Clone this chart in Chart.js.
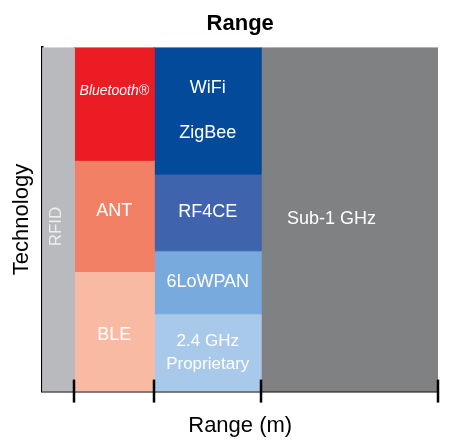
<!DOCTYPE html>
<html>
<head>
<meta charset="utf-8">
<script src="https://cdn.jsdelivr.net/npm/chart.js@4/dist/chart.umd.min.js"></script>
<style>
  body { margin: 0; background: #fff; }
</style>
</head>
<body>
<canvas id="grafico" width="456" height="446"></canvas>
<script>
// range axis edges (relative units)
const rangeEdges = [0, 32, 112, 219, 396];

// one entry per technology block
const techNames = ['RFID', 'Bluetooth®', 'ANT', 'BLE', 'WiFi|ZigBee', 'RF4CE', '6LoWPAN', '2.4 GHz|Proprietary', 'Sub-1 GHz'];
const techColumn = [0, 1, 1, 1, 2, 2, 2, 2, 3];
const techLow = [0, 67.2, 34.9, 0, 63.2, 40.9, 22.6, 0, 0];
const techHigh = [100, 100, 67.2, 34.9, 100, 63.2, 40.9, 22.6, 100];

const techColors = ['#b9babd', '#ec1c24', '#f28064', '#f9baa3', '#034a9b', '#3f64ad', '#79aadd', '#a9c9eb', '#808183'];

function bloco(i) {
  const x0 = rangeEdges[techColumn[i]];
  const x1 = rangeEdges[techColumn[i] + 1];
  return [
    {x: x0, y: techLow[i]},
    {x: x1, y: techLow[i]},
    {x: x1, y: techHigh[i]},
    {x: x0, y: techHigh[i]},
    {x: x0, y: techLow[i]}
  ];
}

const datasets = techNames.map((nome, i) => ({
  label: nome,
  data: bloco(i),
  showLine: true,
  fill: 'shape',
  backgroundColor: techColors[i],
  borderColor: techColors[i],
  borderWidth: 1,
  pointRadius: 0,
  tension: 0
}));

// texto dentro de cada bloco
const rotulos = {
  id: 'rotulos',
  afterDatasetsDraw(chart) {
    const {ctx, scales: {x, y}} = chart;
    ctx.save();
    ctx.textAlign = 'center';
    ctx.textBaseline = 'middle';
    techNames.forEach((nome, i) => {
      const x0 = x.getPixelForValue(rangeEdges[techColumn[i]]);
      const x1 = x.getPixelForValue(rangeEdges[techColumn[i] + 1]);
      const y0 = y.getPixelForValue(techLow[i]);
      const y1 = y.getPixelForValue(techHigh[i]);
      const cx = (x0 + x1) / 2;
      const cy = (y0 + y1) / 2;
      const linhas = nome.split('|');
      ctx.fillStyle = '#ffffff';
      if (nome === 'RFID') {
        ctx.font = '17px "Liberation Sans", Arial, sans-serif';
        ctx.fillStyle = '#eeeeef';
        ctx.translate(cx - 2, cy + 7);
        ctx.rotate(-Math.PI / 2);
        ctx.fillText(nome, 0, 0);
        ctx.setTransform(1, 0, 0, 1, 0, 0);
        return;
      }
      if (nome.startsWith('Bluetooth')) {
        ctx.font = 'italic 14px "Liberation Sans", Arial, sans-serif';
        ctx.fillText(nome, cx, cy - 13);
        return;
      }
      const tam = linhas.length > 1 && (y0 - y1) < 100 ? 17 : 18;
      ctx.font = tam + 'px "Liberation Sans", Arial, sans-serif';
      const gap = linhas.length > 1 ? ((y0 - y1) > 100 ? 45 : 23) : 0;
      let ajuste = 0;
      if (nome === 'ANT') ajuste = -5;
      if (nome === 'BLE') ajuste = 3;
      linhas.forEach((l, k) => {
        const dy = (k - (linhas.length - 1) / 2) * gap;
        const dx = nome === 'Sub-1 GHz' ? -18 : 0;
        ctx.fillText(l, cx + dx, cy + dy + ajuste);
      });
    });
    ctx.restore();

    // marcas do eixo x
    ctx.save();
    ctx.strokeStyle = '#000';
    ctx.lineWidth = 2.5;
    rangeEdges.slice(1).forEach(v => {
      const px = Math.round(x.getPixelForValue(v));
      ctx.beginPath();
      ctx.moveTo(px, chart.chartArea.bottom - 12);
      ctx.lineTo(px, chart.chartArea.bottom + 11);
      ctx.stroke();
    });
    ctx.restore();
  }
};

const ctx = document.getElementById('grafico').getContext('2d');
const chart = new Chart(ctx, {
  type: 'scatter',
  data: { datasets: datasets },
  options: {
    responsive: false,
    animation: false,
    layout: { padding: { top: 0, right: 18, bottom: 0, left: 0 } },
    plugins: {
      legend: { display: false },
      tooltip: { enabled: false },
      title: {
        display: true,
        fullSize: false,
        text: 'Range',
        color: '#000',
        font: { family: '"Liberation Sans", Arial, sans-serif', size: 22, weight: 'bold' },
        padding: { top: 11, bottom: 10 }
      }
    },
    scales: {
      x: {
        type: 'linear',
        min: rangeEdges[0],
        max: rangeEdges[rangeEdges.length - 1],
        z: 1,
        afterBuildTicks: s => { s.ticks = rangeEdges.map(v => ({value: v})); },
        ticks: { display: false },
        grid: { display: false, drawTicks: false },
        border: { display: true, color: '#000', width: 2.5 },
        title: {
          display: true,
          text: 'Range (m)',
          color: '#000',
          font: { family: '"Liberation Sans", Arial, sans-serif', size: 22 },
          padding: { top: 21, bottom: 7 }
        }
      },
      y: {
        type: 'linear',
        min: 0,
        max: 100,
        z: 1,
        ticks: { display: false },
        grid: { display: false, drawTicks: false },
        border: { display: true, color: '#000', width: 2.5 },
        title: {
          display: true,
          text: 'Technology',
          color: '#000',
          font: { family: '"Liberation Sans", Arial, sans-serif', size: 22 },
          padding: { top: 9, bottom: 7 }
        }
      }
    }
  },
  plugins: [rotulos]
});
</script>
</body>
</html>
